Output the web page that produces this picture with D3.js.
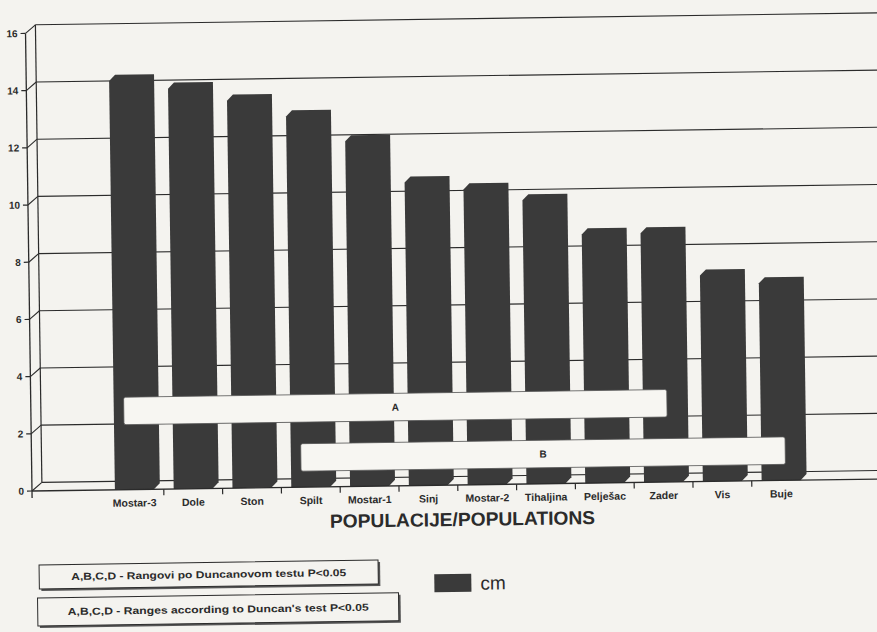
<!DOCTYPE html>
<html>
<head>
<meta charset="utf-8">
<script src="https://cdn.jsdelivr.net/npm/d3@7"></script>
<style>
  html, body { margin: 0; padding: 0; background: #f4f3ef; }
  svg { display: block; font-family: "Liberation Sans", Arial, sans-serif; }
</style>
</head>
<body>
<script>
// populations and mean values (cm)
const categories = ["Mostar-3", "Dole", "Ston", "Spilt", "Mostar-1", "Sinj", "Mostar-2", "Tihaljina", "Pelješac", "Zader", "Vis", "Buje"];
const values = [14.3, 14.0, 13.55, 12.97, 12.07, 10.6, 10.33, 9.92, 8.7, 8.71, 7.2, 6.9];
const yTicks = [0, 2, 4, 6, 8, 10, 12, 14, 16];

// Duncan ranges: letter, first and last population covered
const rangeLetters = ["A", "B"];
const rangeFrom = ["Mostar-3", "Spilt"];
const rangeTo = ["Zader", "Buje"];

const axisTitle = "POPULACIJE/POPULATIONS";
const legendLines = ["A,B,C,D - Rangovi po Duncanovom  testu P<0.05", "A,B,C,D - Ranges according to Duncan's test P<0.05"];
const unitLabel = "cm";

const W = 877, H = 632;
const ink = "#2b2b2b", barFill = "#3a3a3a", paper = "#f4f3ef";
const depth = { dx: 10, dy: 8.5 };   // back wall offset
const barDepth = 6;                  // bar bevel

const svg = d3.select("body").append("svg")
	.attr("width", W)
	.attr("height", H);

svg.append("rect")
	.attr("width", W)
	.attr("height", H)
	.attr("fill", paper);

// the scanned page is slightly tilted
const g = svg.append("g")
	.attr("transform", "rotate(-0.81, 32, 491)");

const yScale = d3.scaleLinear()
	.domain([0, 16])
	.range([491, 33.4]);

const xScale = d3.scaleBand()
	.domain(categories)
	.range([105, 810.6])
	.paddingInner(0.337)
	.paddingOuter(0.1685);

const axisX = 32;
const rightEdge = 900;

// back wall grid lines
g.append("g")
	.selectAll("line")
	.data(yTicks)
	.join("line")
	.attr("x1", axisX + depth.dx)
	.attr("x2", rightEdge)
	.attr("y1", d => yScale(d) - depth.dy)
	.attr("y2", d => yScale(d) - depth.dy)
	.attr("stroke", ink)
	.attr("stroke-width", 1.1);

// connectors from front axis to back wall
g.append("g")
	.selectAll("line")
	.data(yTicks)
	.join("line")
	.attr("x1", axisX)
	.attr("x2", axisX + depth.dx)
	.attr("y1", d => yScale(d))
	.attr("y2", d => yScale(d) - depth.dy)
	.attr("stroke", ink)
	.attr("stroke-width", 1.1);

// back wall vertical edge
g.append("line")
	.attr("x1", axisX + depth.dx)
	.attr("x2", axisX + depth.dx)
	.attr("y1", yScale(16) - depth.dy)
	.attr("y2", yScale(0) - depth.dy)
	.attr("stroke", ink)
	.attr("stroke-width", 1.2);

// bars (front face plus depth silhouette)
g.append("g")
	.selectAll("path")
	.data(values)
	.join("path")
	.attr("d", (v, i) => {
		const x0 = xScale(categories[i]);
		const x1 = x0 + xScale.bandwidth();
		const yt = yScale(v);
		const yb = yScale(0);
		return `M${x0},${yb}L${x0},${yt}L${x0 + barDepth},${yt - barDepth}` +
			`L${x1 + barDepth},${yt - barDepth}L${x1 + barDepth},${yb - barDepth}L${x1},${yb}Z`;
	})
	.attr("fill", barFill);

// Duncan range bands
const bandTop = [398.5, 447.5];
const bandH = 27.5;
rangeLetters.forEach((letter, i) => {
	const x0 = xScale(rangeFrom[i]) + 10;
	const x1 = xScale(rangeTo[i]) + 24;
	g.append("rect")
		.attr("x", x0)
		.attr("y", bandTop[i])
		.attr("width", x1 - x0)
		.attr("height", bandH)
		.attr("rx", 2)
		.attr("fill", "#f7f6f2")
		.attr("stroke", "#555")
		.attr("stroke-width", 0.8);
	g.append("text")
		.attr("x", (x0 + x1) / 2)
		.attr("y", bandTop[i] + bandH / 2)
		.attr("dy", "0.35em")
		.attr("text-anchor", "middle")
		.attr("font-size", "10px")
		.attr("font-weight", "bold")
		.attr("fill", ink)
		.text(letter);
});

// floor front edge
g.append("line")
	.attr("x1", axisX)
	.attr("x2", rightEdge)
	.attr("y1", yScale(0))
	.attr("y2", yScale(0))
	.attr("stroke", ink)
	.attr("stroke-width", 1.3);

// front vertical axis
g.append("line")
	.attr("x1", axisX)
	.attr("x2", axisX)
	.attr("y1", yScale(16))
	.attr("y2", yScale(0) + 7)
	.attr("stroke", ink)
	.attr("stroke-width", 1.3);

// y ticks and labels
const yAxis = g.append("g");
yAxis.selectAll("line")
	.data(yTicks)
	.join("line")
	.attr("x1", axisX - 5)
	.attr("x2", axisX)
	.attr("y1", d => yScale(d))
	.attr("y2", d => yScale(d))
	.attr("stroke", ink)
	.attr("stroke-width", 1.2);

yAxis.selectAll("text")
	.data(yTicks)
	.join("text")
	.attr("x", axisX - 8)
	.attr("y", d => yScale(d))
	.attr("dy", "0.35em")
	.attr("text-anchor", "end")
	.attr("font-size", "10px")
	.attr("font-weight", "bold")
	.attr("fill", ink)
	.text(d => d);

// category ticks between bars
const step = xScale.step();
g.append("g")
	.selectAll("line")
	.data(categories.slice(1))
	.join("line")
	.attr("x1", d => xScale(d) - (step - xScale.bandwidth()) / 2)
	.attr("x2", d => xScale(d) - (step - xScale.bandwidth()) / 2)
	.attr("y1", yScale(0))
	.attr("y2", yScale(0) + 6)
	.attr("stroke", ink)
	.attr("stroke-width", 1.2);

// category labels
g.append("g")
	.selectAll("text")
	.data(categories)
	.join("text")
	.attr("x", d => xScale(d) + xScale.bandwidth() / 2)
	.attr("y", 508)
	.attr("text-anchor", "middle")
	.attr("font-size", "10.5px")
	.attr("font-weight", "bold")
	.attr("fill", ink)
	.text(d => d);

// axis title
g.append("text")
	.attr("x", 462)
	.attr("y", 532)
	.attr("text-anchor", "middle")
	.attr("font-size", "19px")
	.attr("font-weight", "bold")
	.attr("textLength", 265)
	.attr("lengthAdjust", "spacingAndGlyphs")
	.attr("fill", ink)
	.text(axisTitle);

// legend boxes
const boxes = [
	{ x: 38, y: 565, w: 339, h: 24, tl: 275 },
	{ x: 36, y: 598, w: 361, h: 28, tl: 301 }
];
legendLines.forEach((line, i) => {
	const b = boxes[i];
	// drop shadow
	g.append("rect")
		.attr("x", b.x + 2)
		.attr("y", b.y + 2)
		.attr("width", b.w)
		.attr("height", b.h)
		.attr("fill", "#555");
	g.append("rect")
		.attr("x", b.x)
		.attr("y", b.y)
		.attr("width", b.w)
		.attr("height", b.h)
		.attr("fill", paper)
		.attr("stroke", ink)
		.attr("stroke-width", 1);
	g.append("text")
		.attr("x", b.x + b.w / 2)
		.attr("y", b.y + b.h / 2)
		.attr("dy", "0.35em")
		.attr("text-anchor", "middle")
		.attr("font-size", "10px")
		.attr("font-weight", "bold")
		.attr("textLength", b.tl)
		.attr("lengthAdjust", "spacingAndGlyphs")
		.attr("fill", ink)
		.text(line);
});

// series swatch
g.append("rect")
	.attr("x", 433)
	.attr("y", 580)
	.attr("width", 37)
	.attr("height", 18)
	.attr("fill", barFill);

g.append("text")
	.attr("x", 479)
	.attr("y", 596)
	.attr("font-size", "19px")
	.attr("fill", ink)
	.text(unitLabel);
</script>
</body>
</html>
